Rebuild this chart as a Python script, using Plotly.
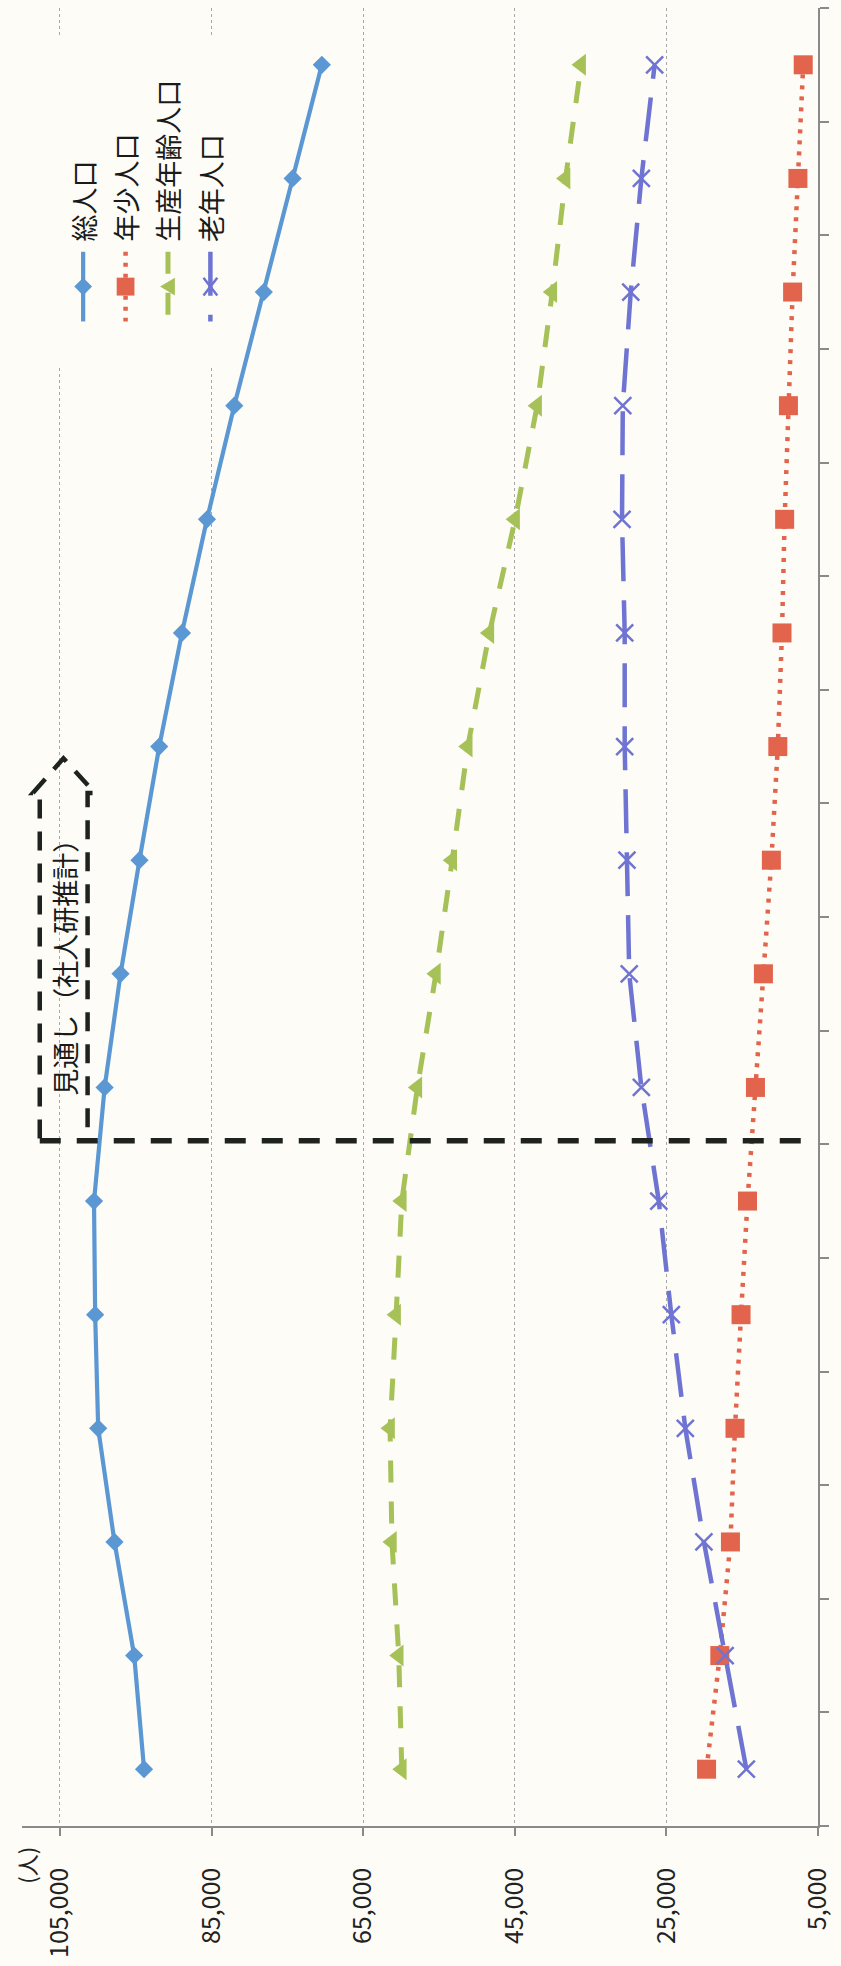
import plotly.graph_objects as go

# ---------------- data ----------------
years = [str(y) for y in range(1985, 2061, 5)]          # 16 periods (hidden category axis)
total_pop   = [93900, 95200, 97800, 99950, 100350, 100500, 99100, 97000,
               94500, 91900, 88900, 85600, 82000, 78100, 74300, 70450]
young_pop   = [19700, 17950, 16550, 15950, 15150, 14300, 13250, 12200,
               11150, 10300, 9750, 9400, 8900, 8350, 7650, 6950]
working_pop = [59900, 60300, 61200, 61450, 60650, 59900, 57850, 55400,
               53250, 51200, 48350, 44950, 42050, 40050, 38300, 36250]
elderly_pop = [14450, 17250, 20050, 22500, 24350, 26000, 28300, 29900,
               30200, 30500, 30500, 30850, 30750, 29700, 28300, 26550]
series_names = ["総人口", "年少人口", "生産年齢人口", "老年人口"]
value_ticks = [105000, 85000, 65000, 45000, 25000, 5000]
value_range = [110000, 5000]
unit_label = "(人)"
note_label = "見通し（社人研推計）"
projection_boundary = 5.53   # category position between actual and projection

# ---------------- styles ----------------
W, H = 841, 1966
ML, MR, MT, MB = 22, 12, 8, 131
PW, PH = W - ML - MR, H - MT - MB
BG = "#FDFCF6"
FONT = "Noto Sans CJK JP"
C_TOTAL, C_YOUNG, C_WORK, C_OLD = "#5A97D3", "#E2644D", "#A5C157", "#6F74D3"

def px(x):
    return (x - ML) / PW

def py(y):
    return (H - MB - y) / PH

styles = [
    dict(color=C_TOTAL, width=4.2, dash="solid", symbol="diamond", size=14),
    dict(color=C_YOUNG, width=4.5, dash="4px,7px", symbol="square", size=19),
    dict(color=C_WORK, width=5, dash="22px,19px", symbol="triangle-left", size=19),
    dict(color=C_OLD, width=4.5, dash="44px,19px", symbol="x-thin", size=17),
]
values = [total_pop, young_pop, working_pop, elderly_pop]

fig = go.Figure()
for name, vals, st in zip(series_names, values, styles):
    fig.add_trace(go.Scatter(
        x=vals, y=years, name=name, mode="lines+markers",
        line=dict(color=st["color"], width=st["width"], dash=st["dash"]),
        marker=dict(symbol=st["symbol"], size=st["size"], color=st["color"],
                    line=dict(color=st["color"], width=2.5 if st["symbol"] == "x-thin" else 0)),
        showlegend=False,
    ))

shapes = []
# legend background (hides gridlines)
shapes.append(dict(type="rect", xref="paper", yref="paper",
                   x0=px(45), x1=px(240), y0=py(367), y1=py(37),
                   fillcolor=BG, line=dict(width=0), layer="above"))

annotations = []
LEG_X0, LEG_DX = 84, 43
LEG_TEXT_BOTTOM = 245
LEG_LINE_Y0, LEG_LINE_Y1, LEG_MARK_Y = 253, 323, 288
for i, (name, st) in enumerate(zip(series_names, styles)):
    cx = LEG_X0 + LEG_DX * i
    shapes.append(dict(type="line", xref="paper", yref="paper",
                       x0=px(cx), x1=px(cx), y0=py(LEG_LINE_Y0), y1=py(LEG_LINE_Y1),
                       line=dict(color=st["color"], width=st["width"], dash=st["dash"]),
                       layer="above"))
    m = LEG_MARK_Y
    if st["symbol"] == "diamond":
        pts = [(cx, m - 9), (cx + 9, m), (cx, m + 9), (cx - 9, m)]
        path = "M" + " L".join(f"{px(a)},{py(b)}" for a, b in pts) + " Z"
        shapes.append(dict(type="path", xref="paper", yref="paper", path=path,
                           fillcolor=st["color"], line=dict(width=0), layer="above"))
    elif st["symbol"] == "square":
        shapes.append(dict(type="rect", xref="paper", yref="paper",
                           x0=px(cx - 9), x1=px(cx + 9), y0=py(m + 9), y1=py(m - 9),
                           fillcolor=st["color"], line=dict(width=0), layer="above"))
    elif st["symbol"] == "triangle-left":
        pts = [(cx - 8, m), (cx + 7, m - 9), (cx + 7, m + 9)]
        path = "M" + " L".join(f"{px(a)},{py(b)}" for a, b in pts) + " Z"
        shapes.append(dict(type="path", xref="paper", yref="paper", path=path,
                           fillcolor=st["color"], line=dict(width=0), layer="above"))
    else:
        path = (f"M{px(cx-7)},{py(m-9)} L{px(cx+7)},{py(m+9)} "
                f"M{px(cx+7)},{py(m-9)} L{px(cx-7)},{py(m+9)}")
        shapes.append(dict(type="path", xref="paper", yref="paper", path=path,
                           line=dict(color=st["color"], width=2.5), layer="above"))
    annotations.append(dict(text=name, xref="paper", yref="paper",
                            x=px(cx), y=py(LEG_TEXT_BOTTOM),
                            xanchor="center", yanchor="bottom", textangle=-90,
                            showarrow=False, font=dict(family=FONT, size=27, color="#1a1a1a")))

# projection separator and arrow-shaped box
DASH_COLOR = "#1f231f"
shapes.append(dict(type="line", xref="paper", yref="y",
                   x0=px(40), x1=px(821), y0=projection_boundary, y1=projection_boundary,
                   line=dict(color=DASH_COLOR, width=5.5, dash="21px,16px"), layer="above"))
box_bottom = 1144
arrow_pts = [(40, box_bottom), (40, 797), (33, 797), (64, 762), (96, 797), (88.5, 797), (88.5, box_bottom)]
arrow_path = "M" + " L".join(f"{px(a)},{py(b)}" for a, b in arrow_pts)
shapes.append(dict(type="path", xref="paper", yref="paper", path=arrow_path,
                   line=dict(color=DASH_COLOR, width=4.5, dash="19px,13px"), layer="above"))
annotations.append(dict(text=note_label, xref="paper", yref="paper",
                        x=px(65), y=py(965), xanchor="center", yanchor="middle",
                        textangle=-90, showarrow=False,
                        font=dict(family=FONT, size=27, color="#1a1a1a")))
annotations.append(dict(text=unit_label, xref="paper", yref="paper",
                        x=px(26), y=py(1874), xanchor="center", yanchor="middle",
                        textangle=-90, showarrow=False,
                        font=dict(family=FONT, size=22, color="#222222")))

fig.update_layout(
    width=W, height=H,
    margin=dict(l=ML, r=MR, t=MT, b=MB, pad=0),
    paper_bgcolor=BG, plot_bgcolor=BG,
    font=dict(family=FONT, color="#222222"),
    shapes=shapes, annotations=annotations,
    showlegend=False,
)
fig.update_xaxes(
    range=value_range, tickvals=value_ticks, tickformat=",",
    tickangle=-90, tickfont=dict(size=25, family=FONT, color="#222222"),
    ticks="outside", ticklen=8, tickcolor="#8a8a8a", tickwidth=1.5,
    ticklabelstandoff=22,
    showline=True, linecolor="#8a8a8a", linewidth=1.5,
    showgrid=True, gridcolor="#a8a8a8", gridwidth=1.3, griddash="dot",
    zeroline=False,
)
fig.update_yaxes(
    type="category", categoryorder="array", categoryarray=years,
    range=[-0.5, len(years) - 0.5], side="right",
    showticklabels=False, ticks="outside", ticklen=9, tickcolor="#8a8a8a", tickwidth=1.5,
    tickson="boundaries",
    showline=True, linecolor="#8a8a8a", linewidth=1.5,
    showgrid=False, zeroline=False,
)

fig.write_html("out.html",
               config={"displayModeBar": False},
               post_script="document.body.style.margin='0';document.body.style.background='" + BG + "';")
